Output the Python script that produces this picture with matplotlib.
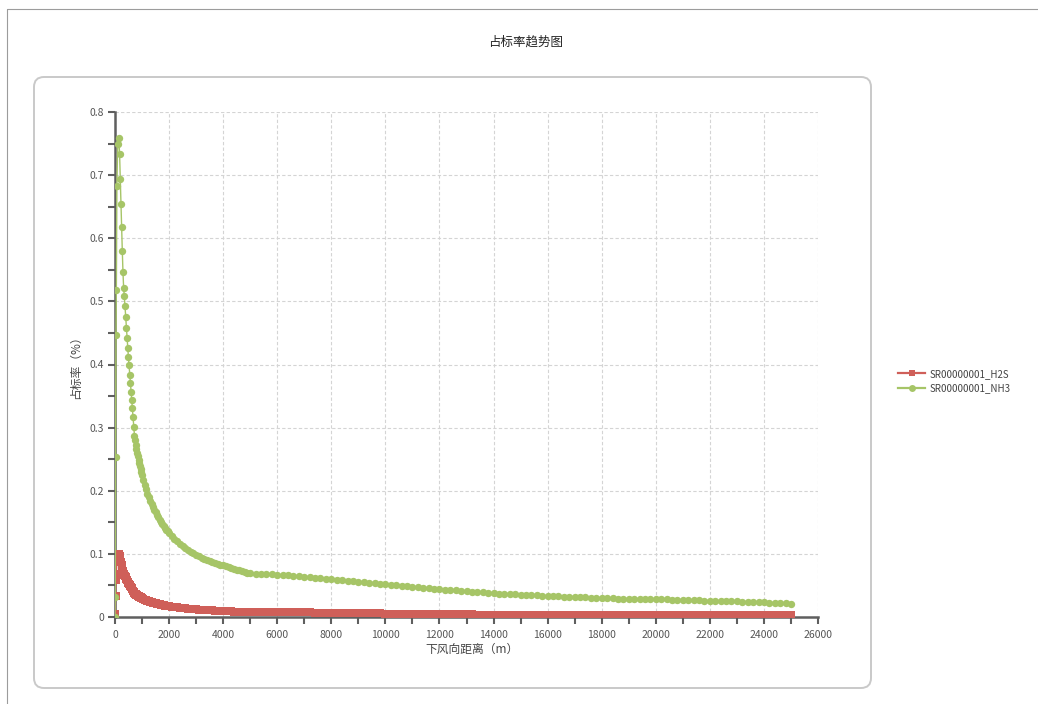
import matplotlib
matplotlib.use("Agg")
import matplotlib.pyplot as plt
from matplotlib.lines import Line2D
from matplotlib.patches import FancyBboxPatch, Rectangle
from matplotlib.ticker import MultipleLocator

plt.rcParams["font.family"] = ["Noto Sans CJK SC", "DejaVu Sans"]

# ---- data (distance in m, ratio in %) ----
distance_near = [0, 10, 20, 35, 50, 70, 100, 140, 170, 195,
                 220, 245, 270, 295, 320, 345, 370, 395, 420, 445,
                 470, 495, 520, 545, 570, 595, 620, 645, 670, 695]
nh3_near = [0, 0.032, 0.254, 0.447, 0.518, 0.683, 0.750, 0.759, 0.733, 0.694,
            0.655, 0.618, 0.580, 0.546, 0.521, 0.508, 0.492, 0.476, 0.458, 0.442,
            0.426, 0.412, 0.399, 0.384, 0.371, 0.357, 0.344, 0.331, 0.317, 0.301]
h2s_near = [0, 0.004, 0.034, 0.059, 0.068, 0.090, 0.099, 0.100, 0.097, 0.092,
            0.0865, 0.0816, 0.0766, 0.0721, 0.0688, 0.0671, 0.0650, 0.0628, 0.0605, 0.0583,
            0.0562, 0.0544, 0.0527, 0.0507, 0.0490, 0.0471, 0.0454, 0.0437, 0.0418, 0.0397]

distance_mid = [720, 745, 770, 795, 820, 845, 870, 895, 920, 945, 970, 995,
                1050, 1100, 1150, 1200, 1250, 1300, 1350, 1400, 1450, 1500,
                1550, 1600, 1650, 1700, 1750, 1800, 1850, 1900, 1950, 2000,
                2100, 2200, 2300, 2400, 2500, 2600, 2700, 2800, 2900, 3000,
                3100, 3200, 3300, 3400, 3500, 3600, 3700, 3800, 3900, 4000,
                4100, 4200, 4300, 4400, 4500, 4600, 4700, 4800, 4900, 5000]
nh3_mid = [0.2871, 0.2798, 0.2729, 0.2665, 0.2603, 0.2546, 0.2491, 0.2439, 0.2388, 0.2341,
           0.2296, 0.2253,
           0.2163, 0.2089, 0.2020, 0.1956, 0.1898, 0.1842, 0.1792, 0.1743, 0.1698, 0.1656,
           0.1615, 0.1578, 0.1541, 0.1507, 0.1475, 0.1444, 0.1414, 0.1385, 0.1359, 0.1334,
           0.1287, 0.1242, 0.1202, 0.1164, 0.1129, 0.1096, 0.1065, 0.1036, 0.1009, 0.0984,
           0.0962, 0.0942, 0.0922, 0.0905, 0.0888, 0.0872, 0.0857, 0.0842, 0.0829, 0.0816,
           0.0803, 0.0790, 0.0777, 0.0765, 0.0752, 0.0740, 0.0728, 0.0716, 0.0703, 0.0690]
h2s_mid = [0.0379, 0.0369, 0.0360, 0.0352, 0.0344, 0.0336, 0.0329, 0.0322, 0.0315, 0.0309,
           0.0303, 0.0297,
           0.0285, 0.0275, 0.0266, 0.0257, 0.0249, 0.0241, 0.0234, 0.0228, 0.0222, 0.0216,
           0.0210, 0.0205, 0.0200, 0.0195, 0.0190, 0.0186, 0.0182, 0.0178, 0.0174, 0.0171,
           0.0164, 0.0158, 0.0152, 0.0147, 0.0142, 0.0137, 0.0133, 0.0129, 0.0125, 0.0121,
           0.0118, 0.0115, 0.0112, 0.0109, 0.0106, 0.0104, 0.0101, 0.0099, 0.0097, 0.0095,
           0.0093, 0.0091, 0.0089, 0.0087, 0.0086, 0.0084, 0.0083, 0.0081, 0.0080, 0.0079]

distance_tail = [5200, 5400, 5600, 5800, 6000, 6200, 6400, 6600, 6800, 7000,
                 7200, 7400, 7600, 7800, 8000, 8200, 8400, 8600, 8800, 9000,
                 9200, 9400, 9600, 9800, 10000, 10200, 10400, 10600, 10800, 11000,
                 11200, 11400, 11600, 11800, 12000, 12200, 12400, 12600, 12800, 13000,
                 13200, 13400, 13600, 13800, 14000, 14200, 14400, 14600, 14800, 15000,
                 15200, 15400, 15600, 15800, 16000, 16200, 16400, 16600, 16800, 17000,
                 17200, 17400, 17600, 17800, 18000, 18200, 18400, 18600, 18800, 19000,
                 19200, 19400, 19600, 19800, 20000, 20200, 20400, 20600, 20800, 21000,
                 21200, 21400, 21600, 21800, 22000, 22200, 22400, 22600, 22800, 23000,
                 23200, 23400, 23600, 23800, 24000, 24200, 24400, 24600, 24800, 25000]
nh3_tail = [0.0682, 0.0680, 0.0678, 0.0676, 0.0672, 0.0668, 0.0662, 0.0656, 0.0648, 0.0640,
            0.0632, 0.0624, 0.0616, 0.0606, 0.0597, 0.0589, 0.0581, 0.0573, 0.0565, 0.0557,
            0.0549, 0.0541, 0.0533, 0.0525, 0.0518, 0.0510, 0.0502, 0.0494, 0.0486, 0.0478,
            0.0470, 0.0463, 0.0455, 0.0447, 0.0439, 0.0433, 0.0426, 0.0420, 0.0414, 0.0408,
            0.0401, 0.0395, 0.0389, 0.0382, 0.0376, 0.0372, 0.0367, 0.0363, 0.0359, 0.0355,
            0.0350, 0.0346, 0.0342, 0.0337, 0.0333, 0.0330, 0.0326, 0.0323, 0.0319, 0.0316,
            0.0312, 0.0309, 0.0305, 0.0302, 0.0298, 0.0296, 0.0295, 0.0293, 0.0292, 0.0290,
            0.0289, 0.0287, 0.0286, 0.0285, 0.0283, 0.0281, 0.0278, 0.0276, 0.0273, 0.0271,
            0.0268, 0.0266, 0.0263, 0.0261, 0.0258, 0.0256, 0.0253, 0.0251, 0.0248, 0.0246,
            0.0243, 0.0241, 0.0238, 0.0236, 0.0233, 0.0229, 0.0225, 0.0221, 0.0217, 0.0213]
h2s_tail = [0.0078, 0.0077, 0.0077, 0.0076, 0.0076, 0.0075, 0.0075, 0.0074, 0.0074, 0.0073,
            0.0073, 0.0066, 0.0066, 0.0065, 0.0065, 0.0064, 0.0064, 0.0063, 0.0063, 0.0062,
            0.0062, 0.0061, 0.0061, 0.0060, 0.0052, 0.0052, 0.0051, 0.0051, 0.0050, 0.0050,
            0.0049, 0.0049, 0.0048, 0.0048, 0.0047, 0.0047, 0.0046, 0.0046, 0.0045, 0.0045,
            0.0044, 0.0038, 0.0038, 0.0038, 0.0038, 0.0037, 0.0037, 0.0037, 0.0037, 0.0037,
            0.0036, 0.0036, 0.0036, 0.0036, 0.0036, 0.0036, 0.0035, 0.0035, 0.0035, 0.0035,
            0.0035, 0.0035, 0.0034, 0.0034, 0.0034, 0.0034, 0.0034, 0.0034, 0.0034, 0.0034,
            0.0034, 0.0034, 0.0034, 0.0034, 0.0029, 0.0029, 0.0029, 0.0029, 0.0029, 0.0028,
            0.0028, 0.0028, 0.0028, 0.0028, 0.0028, 0.0028, 0.0027, 0.0027, 0.0027, 0.0027,
            0.0027, 0.0027, 0.0027, 0.0026, 0.0026, 0.0026, 0.0026, 0.0026, 0.0026, 0.0026]

series_names = ["SR00000001_H2S", "SR00000001_NH3"]
x_ticks = [0, 2000, 4000, 6000, 8000, 10000, 12000, 14000, 16000, 18000,
           20000, 22000, 24000, 26000]
y_ticks = [0, 0.1, 0.2, 0.3, 0.4, 0.5, 0.6, 0.7, 0.8]
y_tick_labels = ["0", "0.1", "0.2", "0.3", "0.4", "0.5", "0.6", "0.7", "0.8"]

distance = distance_near + distance_mid + distance_tail
h2s = h2s_near + h2s_mid + h2s_tail
nh3 = nh3_near + nh3_mid + nh3_tail

RED = "#cf5f59"
GREEN = "#a6c567"
AXIS = "#5f5f5f"
W, H = 1038, 704

fig = plt.figure(figsize=(W / 100, H / 100), dpi=100)

# background decorations in pixel coordinates
bg = fig.add_axes([0, 0, 1, 1], zorder=0)
bg.set_xlim(0, W)
bg.set_ylim(H, 0)
bg.axis("off")
bg.add_patch(Rectangle((7, 9), W + 20, H + 20, fill=False,
                       edgecolor="#9c9c9c", linewidth=0.8))
bg.add_patch(FancyBboxPatch((34, 77), 837, 611,
                            boxstyle="round,pad=0,rounding_size=10",
                            fill=False, edgecolor="#c9c9c9", linewidth=1.4))

ax = fig.add_axes([115 / W, 1 - 617 / H, (818 - 115) / W, (617 - 112) / H],
                  zorder=1)
ax.patch.set_alpha(0)

ax.plot(distance, h2s, color=RED, linewidth=1.0, marker="s", markersize=6,
        markeredgewidth=0, zorder=3)
ax.plot(distance, nh3, color=GREEN, linewidth=1.0, marker="o", markersize=5.3,
        markeredgewidth=0, zorder=4)

ax.set_xlim(0, 26000)
ax.set_ylim(0, 0.8)
ax.set_xticks(x_ticks)
ax.set_yticks(y_ticks)
ax.set_yticklabels(y_tick_labels)
ax.xaxis.set_minor_locator(MultipleLocator(1000))
ax.yaxis.set_minor_locator(MultipleLocator(0.05))
ax.grid(True, which="major", color="#d4d4d4", linestyle=(0, (3, 2)),
        linewidth=0.8, zorder=0)

for side in ("top", "right"):
    ax.spines[side].set_visible(False)
for side in ("left", "bottom"):
    ax.spines[side].set_color(AXIS)
    ax.spines[side].set_linewidth(1.8)

ax.tick_params(axis="both", which="both", direction="out", length=5,
               width=1.5, color=AXIS, labelcolor="#555555", labelsize=7.5)
ax.tick_params(axis="y", pad=3)
ax.tick_params(axis="x", pad=4)

ax.set_xlabel("下风向距离（m）", fontsize=8.5, color="#444444")
ax.xaxis.set_label_coords(0.508, -0.052)
ax.set_ylabel("占标率（%）", fontsize=8.5, color="#444444")
ax.yaxis.set_label_coords(-0.047, 0.5)

fig.text(526 / W, 1 - 42 / H, "占标率趋势图", ha="center", va="center",
         fontsize=9, color="#222222")

handles = [
    Line2D([], [], color=RED, linewidth=1.6, marker="s", markersize=5,
           markeredgewidth=0),
    Line2D([], [], color=GREEN, linewidth=1.6, marker="o", markersize=5,
           markeredgewidth=0),
]
fig.legend(handles, series_names, loc="center left",
           bbox_to_anchor=(898 / W, 1 - 381 / H), frameon=False, fontsize=7,
           handlelength=2.8, handletextpad=0.4, labelspacing=0.45,
           borderpad=0, borderaxespad=0, labelcolor="#444444")

fig.savefig("out.png", dpi=100)
